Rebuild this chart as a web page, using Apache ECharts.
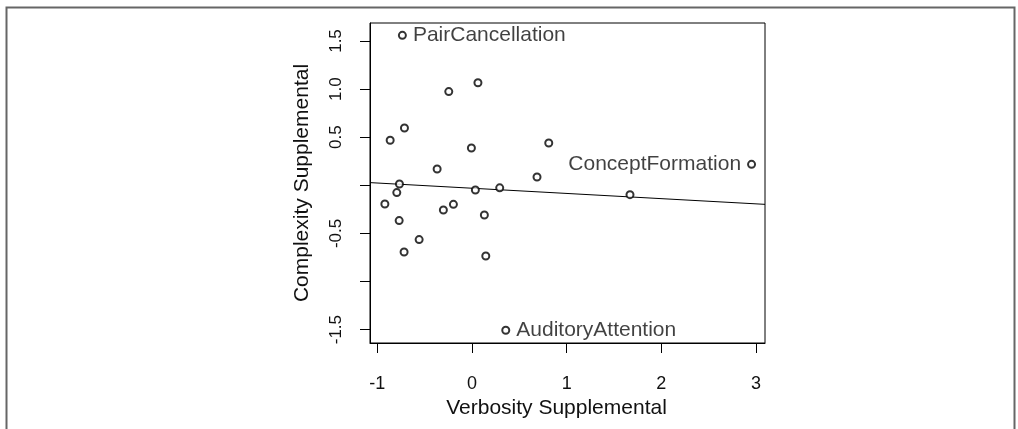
<!DOCTYPE html>
<html>
<head>
<meta charset="utf-8">
<script src="https://cdn.jsdelivr.net/npm/echarts@6/dist/echarts.min.js"></script>
<style>
html,body{margin:0;padding:0;background:#fff;}
#chart{width:1018px;height:429px;}
</style>
</head>
<body>
<div id="chart"></div>
<script>
// ---- data ----
var verbosity = [-0.735, 0.063, -0.245, -0.713, -0.864, -0.006, 0.811, -0.368, 0.687, 2.953,
                 -0.766, -0.794, 0.036, 0.293, 1.669, -0.920, -0.302, -0.196, 0.131, -0.769,
                 -0.558, -0.717, 0.146, 0.357];
var complexity = [1.559, 1.066, 0.974, 0.596, 0.468, 0.388, 0.440, 0.169, 0.086, 0.218,
                  0.014, -0.076, -0.049, -0.026, -0.097, -0.194, -0.257, -0.198, -0.309, -0.367,
                  -0.564, -0.693, -0.735, -1.507];
var pointNames = ["PairCancellation", "", "", "", "", "", "", "", "", "ConceptFormation",
                  "", "", "", "", "", "", "", "", "", "",
                  "", "", "", "AuditoryAttention"];
var fitLineX = [-1.077, 3.095];
var fitLineY = [0.028, -0.198];
var xTicks = [-1, 0, 1, 2, 3];
var yTicks = [-1.5, -1.0, -0.5, 0, 0.5, 1.0, 1.5];
var yTickLabels = [-1.5, -0.5, 0.5, 1.0, 1.5];
var xTitle = "Verbosity Supplemental";
var yTitle = "Complexity Supplemental";

// ---- chart ----
var labelSide = {"PairCancellation": "right", "ConceptFormation": "left", "AuditoryAttention": "right"};
var pts = verbosity.map(function (x, i) {
  var item = {value: [x, complexity[i]], name: pointNames[i]};
  if (pointNames[i]) {
    item.label = {show: true, position: labelSide[pointNames[i]], formatter: '{b}'};
  }
  return item;
});
var fitData = fitLineX.map(function (x, i) { return [x, fitLineY[i]]; });

var font = '"Liberation Sans", Arial, sans-serif';
var chart = echarts.init(document.getElementById('chart'), null, {renderer: 'canvas'});
chart.setOption({
  animation: false,
  backgroundColor: '#fff',
  graphic: [{
    type: 'rect', left: 4, top: 5,
    shape: {width: 1008, height: 440},
    style: {fill: 'none', stroke: '#666', lineWidth: 2},
    silent: true
  }],
  grid: {left: 370, right: 253, top: 23, bottom: 86, show: true,
         borderColor: '#000', borderWidth: 1, backgroundColor: 'transparent'},
  xAxis: {
    type: 'value', min: -1.077, max: 3.095,
    name: xTitle, nameLocation: 'middle', nameGap: 49,
    nameTextStyle: {color: '#111', fontFamily: font, fontSize: 21, padding: [0, 22, 0, 0]},
    splitLine: {show: false},
    axisLine: {show: true, onZero: false, lineStyle: {color: '#000', width: 1}},
    axisTick: {show: true, inside: false, length: 10, customValues: xTicks, lineStyle: {color: '#000', width: 1}},
    axisLabel: {show: true, margin: 32, customValues: xTicks, color: '#111', fontFamily: font, fontSize: 18,
                formatter: function (v) { return String(v); }}
  },
  yAxis: {
    type: 'value', min: -1.639, max: 1.687,
    name: yTitle, nameLocation: 'middle', nameGap: 57, nameRotate: 90,
    nameTextStyle: {color: '#111', fontFamily: font, fontSize: 21},
    splitLine: {show: false},
    axisLine: {show: true, onZero: false, lineStyle: {color: '#000', width: 1}},
    axisTick: {show: true, inside: false, length: 10, customValues: yTicks, lineStyle: {color: '#000', width: 1}},
    axisLabel: {show: true, margin: 25, rotate: 90, customValues: yTickLabels, color: '#111', fontFamily: font, fontSize: 17,
                formatter: function (v) { return v.toFixed(1); }}
  },
  series: [{
    type: 'line', data: fitData, symbol: 'none', silent: true,
    lineStyle: {color: '#000', width: 1}, z: 2
  }, {
    type: 'scatter', data: pts, symbol: 'emptyCircle', symbolSize: 7,
    itemStyle: {color: '#000', borderColor: '#000', borderWidth: 0.9},
    label: {show: false, color: '#111', fontFamily: font, fontSize: 21, distance: 6},
    z: 3
  }]
});
</script>
</body>
</html>
